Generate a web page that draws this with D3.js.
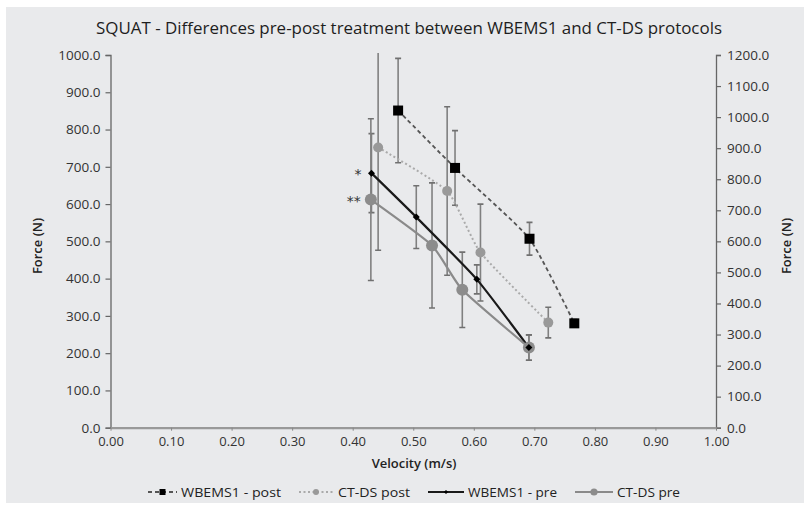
<!DOCTYPE html>
<html><head><meta charset="utf-8">
<script src="https://cdn.jsdelivr.net/npm/d3@7"></script>
<style>
html,body{margin:0;padding:0;background:#fff;}
svg{display:block;}
text{font-family:"Open Sans","DejaVu Sans",sans-serif;fill:#333;}
</style></head>
<body>
<svg id="chart" width="810" height="508"></svg>
<script>
// ---- data ----
const titleText = "SQUAT - Differences pre-post treatment between WBEMS1 and CT-DS protocols";
const seriesNames = ["WBEMS1 - post", "CT-DS post", "WBEMS1 - pre", "CT-DS pre"];
const wbPostV = [0.475, 0.569, 0.692, 0.766];
const wbPostF = [851, 697, 507, 280];
const wbPostErr = [140, 100, 44, 10];
const ctPostV = [0.442, 0.556, 0.611, 0.723];
const ctPostF = [752, 635, 470, 282];
const ctPostErr = [276, 226, 130, 41];
const wbPreV = [0.431, 0.505, 0.605, 0.691];
const wbPreF = [683, 565, 398, 215];
const wbPreErr = [106, 84, 39, 34];
const ctPreV = [0.430, 0.531, 0.581, 0.691];
const ctPreF = [612, 489, 370, 215];
const ctPreErr = [217, 168, 101, 34];
const xTicks = [0,0.1,0.2,0.3,0.4,0.5,0.6,0.7,0.8,0.9,1.0];
const yTicksLeft = [0,100,200,300,400,500,600,700,800,900,1000];
const yTicksRight = [0,100,200,300,400,500,600,700,800,900,1000,1100,1200];
const annotations = [{v:0.431, f:683, t:"*"}, {v:0.430, f:612, t:"**"}];

// ---- layout ----
const svg = d3.select("#chart");
const L = 110.5, R = 716, T = 55, B = 427.7;
const x = d3.scaleLinear().domain([0,1]).range([L,R]);
const y = d3.scaleLinear().domain([0,1000]).range([B,T]);
const yR = d3.scaleLinear().domain([0,1200]).range([B,T]);

svg.append("rect").attr("x",6).attr("y",7).attr("width",798).attr("height",496).attr("fill","#e9eaec");

// title
svg.append("text").attr("x",409).attr("y",34).attr("text-anchor","middle")
  .attr("font-size",16.5).attr("font-weight",500).attr("textLength",626).attr("lengthAdjust","spacingAndGlyphs")
  .style("fill","#1e1e1e").text(titleText);

// axes
const fmt = d3.format(".1f");
const gL = svg.append("g").attr("transform",`translate(${L},0)`)
  .call(d3.axisLeft(y).tickValues(yTicksLeft).tickFormat(fmt).tickSize(5).tickSizeOuter(5).tickPadding(5));
const gR = svg.append("g").attr("transform",`translate(${R},0)`)
  .call(d3.axisRight(yR).tickValues(yTicksRight).tickFormat(fmt).tickSize(5).tickSizeOuter(5).tickPadding(6));
const gX = svg.append("g").attr("transform",`translate(0,${B})`)
  .call(d3.axisBottom(x).tickValues(xTicks).tickFormat(d3.format(".2f")).tickSize(3).tickSizeOuter(0).tickPadding(6));
[gL,gR].forEach(g=>{
  g.select(".domain").attr("stroke","#666").attr("stroke-width",1.3);
  g.selectAll(".tick line").attr("stroke","#666").attr("stroke-width",1.2);
  g.selectAll(".tick text").attr("font-size",13.5).style("font-family","'Open Sans',sans-serif").style("fill","#333");
});
gX.select(".domain").attr("stroke","#999").attr("stroke-width",2.2);
gX.selectAll(".tick line").attr("stroke","#888").attr("stroke-width",1);
gX.selectAll(".tick text").attr("font-size",13).style("font-family","'Open Sans',sans-serif").style("fill","#333");

// axis titles
svg.append("text").attr("x",414).attr("y",468).attr("text-anchor","middle").attr("font-size",13)
  .attr("font-weight",600).style("fill","#222").text("Velocity (m/s)");
svg.append("text").attr("transform","translate(42,246) rotate(-90)").attr("text-anchor","middle")
  .attr("font-size",13).attr("font-weight",600).style("fill","#222").text("Force (N)");
svg.append("text").attr("transform","translate(791,246) rotate(-90)").attr("text-anchor","middle")
  .attr("font-size",13).attr("font-weight",600).style("fill","#222").text("Force (N)");

// clip
svg.append("clipPath").attr("id","plotclip").append("rect")
  .attr("x",L-20).attr("y",T-2).attr("width",R-L+40).attr("height",B-T+2);

const plot = svg.append("g").attr("clip-path","url(#plotclip)");

const mk = (V,F,E)=>V.map((v,i)=>({v, f:F[i], e:E[i]}));
const series = [
  {name:seriesNames[0], data:mk(wbPostV,wbPostF,wbPostErr), line:"#555", dash:"4,3", lw:1.8, marker:"square", mfill:"#000", msize:10},
  {name:seriesNames[1], data:mk(ctPostV,ctPostF,ctPostErr), line:"#aaa", dash:"2,2.5", lw:2, marker:"circle", mfill:"#999", msize:5},
  {name:seriesNames[2], data:mk(wbPreV,wbPreF,wbPreErr), line:"#1a1a1a", dash:null, lw:2.2, marker:"diamond", mfill:"#000", msize:3.5},
  {name:seriesNames[3], data:mk(ctPreV,ctPreF,ctPreErr), line:"#8a8a8a", dash:null, lw:2.2, marker:"circle", mfill:"#8c8c8c", msize:6}
];

// error bars
series.forEach(s=>{
  const g = plot.append("g");
  s.data.forEach(d=>{
    const cx = x(d.v);
    g.append("line").attr("x1",cx).attr("x2",cx).attr("y1",y(d.f+d.e)).attr("y2",y(d.f-d.e))
      .attr("stroke","#808080").attr("stroke-width",1.6);
    [d.f+d.e, d.f-d.e].forEach(val=>{
      if (val <= 1000) g.append("line").attr("x1",cx-3).attr("x2",cx+3).attr("y1",y(val)).attr("y2",y(val))
        .attr("stroke","#707070").attr("stroke-width",1.6);
    });
  });
});

// lines
const lineGen = d3.line().x(d=>x(d.v)).y(d=>y(d.f)).curve(d3.curveCardinal.tension(0.5));
series.forEach(s=>{
  plot.append("path").datum(s.data).attr("d",lineGen).attr("fill","none")
    .attr("stroke",s.line).attr("stroke-width",s.lw).attr("stroke-dasharray",s.dash);
});

function drawMarker(g, s, cx, cy, scale){
  const k = scale||1;
  if (s.marker==="square"){
    const w = s.msize*k;
    g.append("rect").attr("x",cx-w/2).attr("y",cy-w/2).attr("width",w).attr("height",w).attr("fill",s.mfill);
  } else if (s.marker==="circle"){
    g.append("circle").attr("cx",cx).attr("cy",cy).attr("r",s.msize*k).attr("fill",s.mfill);
  } else {
    const r = s.msize*k;
    g.append("path").attr("d",`M${cx},${cy-r}L${cx+r},${cy}L${cx},${cy+r}L${cx-r},${cy}Z`).attr("fill",s.mfill);
  }
}
// markers
[series[3], series[1], series[2], series[0]].forEach(s=>{
  const g = plot.append("g");
  s.data.forEach(d=>drawMarker(g, s, x(d.v), y(d.f)));
});

// annotations
annotations.forEach(a=>{
  svg.append("text").attr("x",x(a.v)-10).attr("y",y(a.f)+6).attr("text-anchor","end")
    .attr("font-size",14).style("font-family","'DejaVu Sans',sans-serif").style("fill","#333").text(a.t);
});

// legend
const legendItems = [
  {s:series[0], x0:148, x1:177, tx:181, w:100},
  {s:series[1], x0:299, x1:333, tx:338, w:72},
  {s:series[2], x0:428, x1:464, tx:468, w:89},
  {s:series[3], x0:575, x1:613, tx:617, w:63}
];
const ly = 492;
legendItems.forEach(it=>{
  const g = svg.append("g");
  g.append("line").attr("x1",it.x0).attr("x2",it.x1).attr("y1",ly).attr("y2",ly)
    .attr("stroke",it.s.line).attr("stroke-width",it.s.lw).attr("stroke-dasharray",it.s.dash);
  drawMarker(g, it.s, (it.x0+it.x1)/2, ly, 0.6);
  g.append("text").attr("x",it.tx).attr("y",ly+5).attr("font-size",13.5)
    .attr("textLength",it.w).attr("lengthAdjust","spacingAndGlyphs")
    .style("fill","#222").text(it.s.name);
});
</script>
</body></html>
